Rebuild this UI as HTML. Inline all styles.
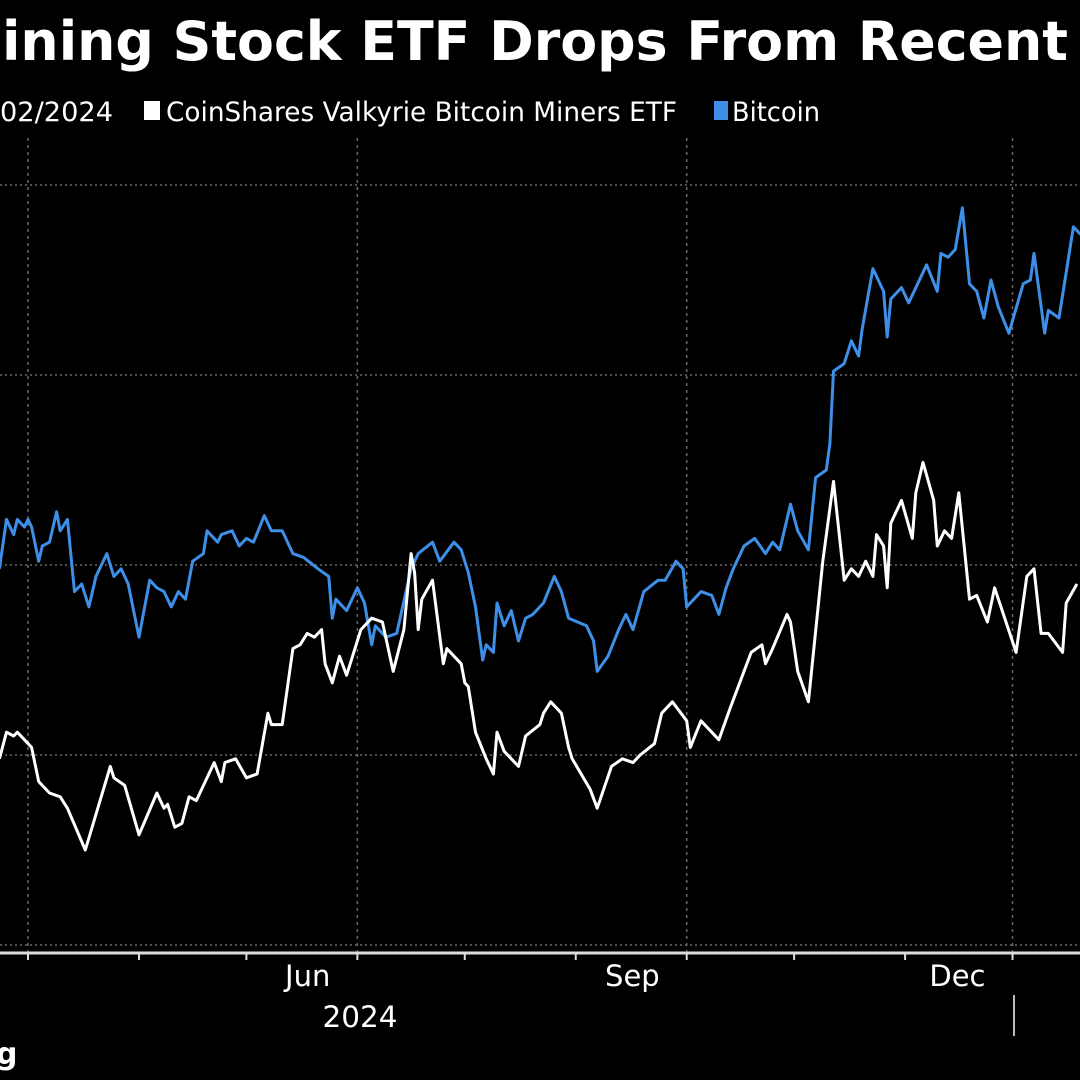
<!DOCTYPE html>
<html><head><meta charset="utf-8"><style>
html,body{margin:0;padding:0;background:#000;}
svg{display:block;}
text{font-family:"DejaVu Sans","Liberation Sans",sans-serif;fill:#fff;}
</style></head><body>
<svg id="chart" width="1080" height="1080" viewBox="0 0 1080 1080" xmlns="http://www.w3.org/2000/svg">
<rect x="0" y="0" width="1080" height="1080" fill="#000"/>
<text x="2" y="60" font-size="54" font-weight="bold" textLength="1066" lengthAdjust="spacingAndGlyphs">ining Stock ETF Drops From Recent</text>
<g>
<text x="0" y="121" font-size="27" textLength="113" lengthAdjust="spacingAndGlyphs">02/2024</text>
<rect x="144" y="101" width="16" height="19" fill="#fff"/>
<text x="166" y="121" font-size="27" textLength="511" lengthAdjust="spacingAndGlyphs">CoinShares Valkyrie Bitcoin Miners ETF</text>
<rect x="714" y="101" width="14" height="19" fill="#3d8fe8"/>
<text x="732" y="121" font-size="27" textLength="88" lengthAdjust="spacingAndGlyphs">Bitcoin</text>
</g>
<g id="grid"></g>
<g id="axis"></g>
<g id="series"></g>
<text x="360" y="1027" font-size="29" text-anchor="middle" textLength="75" lengthAdjust="spacingAndGlyphs">2024</text>
<line x1="1014" y1="995" x2="1014" y2="1036" stroke="#bbb" stroke-width="2"/>
<text x="-4" y="1064" font-size="30" font-weight="bold">g</text>
</svg>
<script>
// days since Mar 1 2024; values in % units
const yTicks = [-50, 0, 50, 100, 150];
const monthTickDays = [0, 31, 61, 92, 122, 153, 184, 214, 245, 275];
const quarterDays = [0, 92, 184, 275];
const monthLabels = ["Jun", "Sep", "Dec"];
const monthLabelDays = [92, 184, 275];

const btcDays = [-8,-6,-4,-3,-1,0,1,3,4,6,8,9,11,13,15,17,19,22,24,26,28,31,34,36,38,40,42,44,46,49,50,53,54,57,59,61,63,66,68,71,74,77,81,84,85,86,89,92,94,96,97,100,103,107,109,113,115,119,121,123,125,127,128,130,131,133,135,137,139,141,144,147,149,151,156,158,159,162,165,167,169,172,176,178,181,183,184,188,191,193,195,197,200,203,206,208,210,213,215,218,220,223,224,225,228,230,232,233,236,239,240,241,243,244,246,251,254,255,257,259,261,263,265,267,269,271,274,278,280,281,284,285,288,290,292,294];
const btcValues = [49,62,58,62,60,62,60,51,55,56,64,59,62,43,45,39,47,53,47,49,45,31,46,44,43,39,43,41,51,53,59,56,58,59,55,57,56,63,59,59,53,52,49,47,36,41,38,44,40,29,34,31,32,49,53,56,51,56,54,48,39,25,29,27,40,34,38,30,36,37,40,47,43,36,34,30,22,26,33,37,33,43,46,46,51,49,39,43,42,37,44,49,55,57,53,56,54,66,59,54,73,75,82,101,103,109,105,112,128,122,110,120,122,123,119,129,122,132,131,133,144,124,122,115,125,118,111,124,125,132,111,117,115,127,139,137];

const etfDays = [-8,-6,-4,-3,1,3,6,9,11,16,23,24,27,31,36,38,39,41,43,45,47,52,54,55,58,61,64,67,68,71,74,76,78,80,82,83,85,87,89,93,96,99,102,105,107,108,109,110,113,116,117,121,122,123,125,128,130,131,133,137,139,143,144,146,149,151,152,157,159,163,166,169,171,175,177,180,184,185,188,193,196,200,202,205,206,208,212,213,215,218,222,225,228,230,232,234,236,237,239,240,241,244,247,248,250,253,254,256,258,260,263,265,268,270,276,279,281,283,285,289,290,293];
const etfValues = [-1,6,5,6,2,-7,-10,-11,-14,-25,-3,-6,-8,-21,-10,-14,-13,-19,-18,-11,-12,-2,-7,-2,-1,-6,-5,11,8,8,28,29,32,31,33,24,19,26,21,33,36,35,22,33,53,48,33,41,46,24,28,24,19,18,6,-1,-5,6,1,-3,5,8,11,14,11,2,-1,-9,-14,-3,-1,-2,0,3,11,14,9,2,9,4,12,22,27,29,24,28,37,35,22,14,51,72,46,49,47,51,47,58,55,44,61,67,57,69,77,67,55,59,57,69,41,42,35,44,27,47,49,32,32,27,40,45];

const X0 = 28, PX_PER_DAY = 3.58;
const Y0 = 755, PX_PER_UNIT = 3.8;
function xScale(d){ return X0 + d * PX_PER_DAY; }
function yScale(v){ return Y0 - v * PX_PER_UNIT; }
const NS = "http://www.w3.org/2000/svg";
function mk(tag, parent){ const e = document.createElementNS(NS, tag); parent.appendChild(e); return e; }

const grid = document.getElementById('grid');
yTicks.forEach(function(t){
  const l = mk('line', grid);
  
  
  l.setAttribute('x1', 0); l.setAttribute('x2', 1080);
  l.setAttribute('y1', yScale(t)); l.setAttribute('y2', yScale(t));
  l.setAttribute('stroke', '#6a6a6a'); l.setAttribute('stroke-width', '1.5');
  l.setAttribute('stroke-dasharray', '2 3');
});
quarterDays.forEach(function(d){
  const l = mk('line', grid);
  
  
  l.setAttribute('x1', xScale(d)); l.setAttribute('x2', xScale(d));
  l.setAttribute('y1', 138); l.setAttribute('y2', 953);
  l.setAttribute('stroke', '#6a6a6a'); l.setAttribute('stroke-width', '1.5');
  l.setAttribute('stroke-dasharray', '3 4');
});

const axis = document.getElementById('axis');
const al = mk('line', axis);


al.setAttribute('x1', 0); al.setAttribute('x2', 1080);
al.setAttribute('y1', 953); al.setAttribute('y2', 953);
al.setAttribute('stroke', '#ddd'); al.setAttribute('stroke-width', '3');
monthTickDays.forEach(function(d){
  const t = mk('line', axis);
  
  
  t.setAttribute('x1', xScale(d)); t.setAttribute('x2', xScale(d));
  t.setAttribute('y1', 953); t.setAttribute('y2', 960);
  t.setAttribute('stroke', '#ddd'); t.setAttribute('stroke-width', '2');
});
monthLabels.forEach(function(m, i){
  const t = mk('text', axis);
  
  
  t.setAttribute('x', xScale(monthLabelDays[i]) - 27);
  t.setAttribute('y', 986);
  t.setAttribute('font-size', '29');
  t.setAttribute('text-anchor', 'end');
  t.textContent = m;
});

const series = document.getElementById('series');
function drawLine(days, vals, color, name){
  const p = mk('polyline', series);
  
  
  p.setAttribute('points', days.map(function(d, i){ return xScale(d).toFixed(1) + ',' + yScale(vals[i]).toFixed(1); }).join(' '));
  p.setAttribute('fill', 'none');
  p.setAttribute('stroke', color);
  p.setAttribute('stroke-width', '3');
  p.setAttribute('stroke-linejoin', 'round');
}
drawLine(btcDays, btcValues, '#3d8fe8', 'bitcoin-line');
drawLine(etfDays, etfValues, '#ffffff', 'etf-line');
</script>
</body></html>
